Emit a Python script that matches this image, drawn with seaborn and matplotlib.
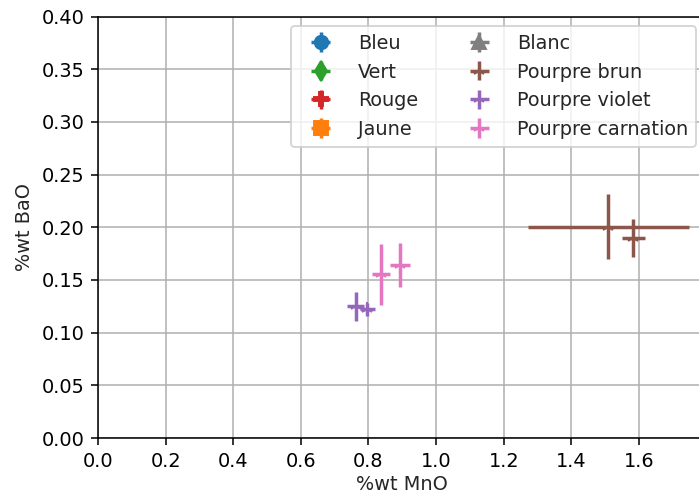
import matplotlib
matplotlib.use("Agg")
import matplotlib.pyplot as plt
import seaborn as sns
import numpy as np

labels = ["Bleu", "Vert", "Rouge", "Jaune", "Blanc", "Pourpre brun", "Pourpre violet", "Pourpre carnation"]
colors = ["#1f77b4", "#2ca02c", "#d62728", "#ff7f0e", "#7f7f7f", "#8c564b", "#9467bd", "#e377c2"]
markers = ["o", "d", "P", "s", "^", "2", "2", "2"]

# data per series: MnO, BaO, errors
mno = {"Pourpre brun": [1.509, 1.584], "Pourpre violet": [0.763, 0.797], "Pourpre carnation": [0.837, 0.893]}
bao = {"Pourpre brun": [0.2005, 0.190], "Pourpre violet": [0.125, 0.122], "Pourpre carnation": [0.1555, 0.164]}
mno_err = {"Pourpre brun": [0.238, 0.035], "Pourpre violet": [0.025, 0.021], "Pourpre carnation": [0.026, 0.030]}
bao_err = {"Pourpre brun": [0.031, 0.018], "Pourpre violet": [0.014, 0.006], "Pourpre carnation": [0.029, 0.021]}

sns.set_style("white")
plt.rcParams["font.family"] = ["DejaVu Sans"]
plt.rcParams["font.size"] = 10
DPI = 139
fig = plt.figure(figsize=(699 / DPI, 495 / DPI), dpi=DPI)
ax = fig.add_axes([98 / 699, 1 - 438 / 495, (705.5 - 98) / 699, (438 - 16.5) / 495])

for lab, col, mk in zip(labels, colors, markers):
    xs = np.array(mno.get(lab, []), dtype=float)
    ys = np.array(bao.get(lab, []), dtype=float)
    xe = np.array(mno_err.get(lab, []), dtype=float)
    ye = np.array(bao_err.get(lab, []), dtype=float)
    ax.errorbar(xs, ys, xerr=xe, yerr=ye, fmt=mk, color=col, label=lab,
                markersize=7, elinewidth=1.8, capsize=0)

ax.set_xlim(0, 1.797)
ax.set_ylim(0, 0.40)
ax.set_xticks(np.arange(0, 1.61, 0.2))
ax.set_yticks(np.arange(0, 0.401, 0.05))
ax.grid(True, color="#b0b0b0", linewidth=0.8)
ax.set_axisbelow(True)
for s in ax.spines.values():
    s.set_color("black")
    s.set_linewidth(0.8)
ax.tick_params(axis="both", which="both", direction="out", length=3.5, width=0.8,
               labelsize=10, left=True, bottom=True, colors="black")
ax.set_xlabel("%wt MnO", fontsize=10, labelpad=2.5)
ax.set_ylabel("%wt BaO", fontsize=10)
ax.legend(ncol=2, loc="upper right", fontsize=10, framealpha=0.8, handlelength=2.3)

fig.savefig("out.png", dpi=DPI)
